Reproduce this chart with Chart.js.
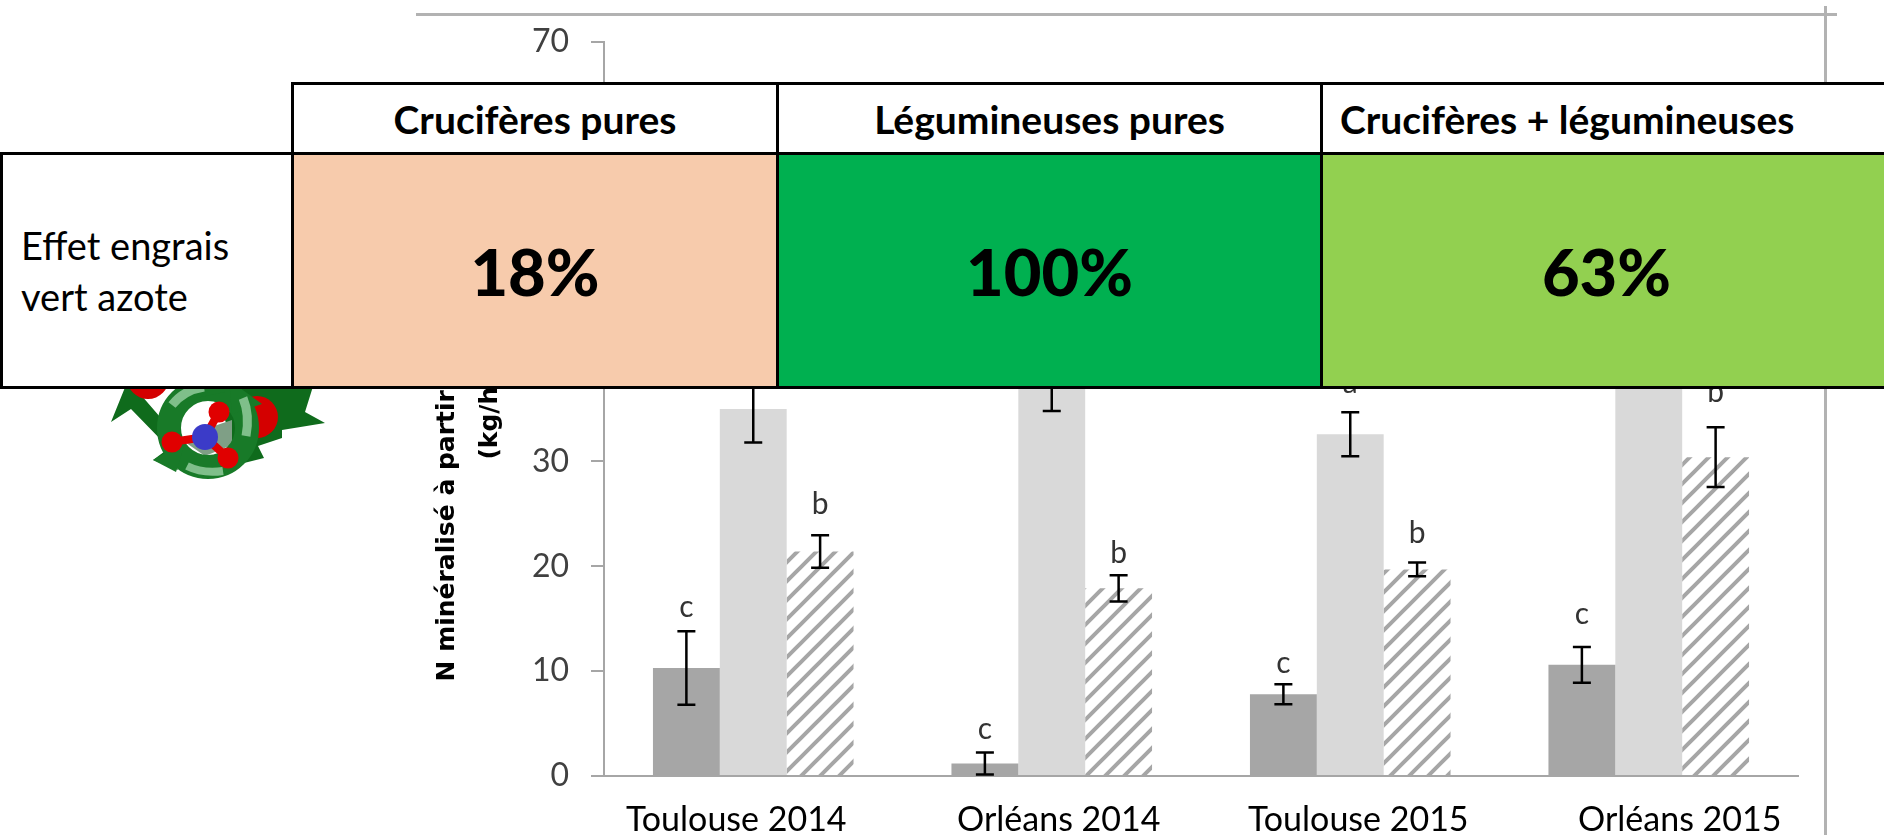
<!DOCTYPE html>
<html lang="fr">
<head>
<meta charset="utf-8">
<title>Effet engrais vert azote</title>
<script src="https://cdn.jsdelivr.net/npm/chart.js@4"></script>
<style>
  html, body { margin: 0; padding: 0; background: #fff; }
  body { position: relative; width: 1884px; height: 835px; overflow: hidden; font-family: Lato, sans-serif; color: #000; }
  canvas { position: absolute; left: 0; top: 0; }
  .frame { position: absolute; background: #b2b2b2; }
  #icon { position: absolute; left: 0; top: 0; }
  .cell { position: absolute; box-sizing: border-box; border: 3px solid #000; display: flex; align-items: center; justify-content: center; white-space: nowrap; }
  .head { background: #fff; font-weight: 700; font-size: 39px; }
  .pct { font-weight: 900; font-size: 65px; }
  .side { background: #fff; justify-content: flex-start; padding-left: 18px; font-size: 38px; line-height: 51px; white-space: normal; }
</style>
</head>
<body>
<canvas id="chart" width="1884" height="835"></canvas>
<div class="frame" style="left:416px;top:13px;width:1421px;height:3px"></div>
<div class="frame" style="left:1824px;top:6px;width:3px;height:829px"></div>
<svg id="icon" width="400" height="500" viewBox="0 0 400 500">
  <path d="M128 380 L111 422 L131 409 L166 445 L178 470 L153 460 L180 440 Z" fill="#0f6b1c"/>
  <path d="M245 380 L315 380 L305 412 L325 423 L282 430 L282 438 L258 446 L264 458 L240 464 L225 420 Z" fill="#0f6b1c"/>
  <circle cx="148" cy="378" r="21" fill="#d40000"/>
  <circle cx="257" cy="417" r="21" fill="#d40000"/>
  <path d="M208 428 L232 420 L232 445 L205 456 L182 440 Z" fill="#7f9f86"/>
  <circle cx="208" cy="428" r="39" fill="none" stroke="#187a28" stroke-width="24"/>
  <path d="M208 363 L225 392 L196 398 Z" fill="#187a28"/>
  <path d="M229 380 L262 404 L232 414 Z" fill="#187a28"/>
  <path d="M153 460 L186 440 L176 472 Z" fill="#187a28"/>
  <path d="M172 405 Q184 390 204 387" fill="none" stroke="#7fbf8a" stroke-width="9"/>
  <path d="M243 398 Q250 415 246 436" fill="none" stroke="#7fbf8a" stroke-width="9"/>
  <path d="M187 466 Q203 474 223 471" fill="none" stroke="#7fbf8a" stroke-width="8"/>
  <path d="M205 437 L219 412 M205 437 L172 442 M205 437 L228 458" stroke="#e00000" stroke-width="8"/>
  <circle cx="205" cy="437" r="13" fill="#3b3bc8"/>
  <circle cx="219" cy="412" r="10.5" fill="#e00000"/>
  <circle cx="172" cy="442" r="10.5" fill="#e00000"/>
  <circle cx="228" cy="458" r="10.5" fill="#e00000"/>
</svg>
<div id="table"></div>
<script>
var categories = ['Toulouse 2014', 'Orléans 2014', 'Toulouse 2015', 'Orléans 2015'];
var yTicks = [0, 10, 20, 30, 40, 50, 60, 70];

// bar heights, kg/ha (the light bars of Orleans are hidden by the table, so estimated)
var cruciferes = [10.3, 1.2, 7.8, 10.6];
var legumineuses = [35, 38, 32.6, 42];
var melanges = [21.4, 17.9, 19.7, 30.4];

// half length of the error bars
var crucifereErr = [3.5, 1.05, 0.95, 1.7];
var legumineuseErr = [3.2, 3.2, 2.1, 3.5];
var melangeErr = [1.55, 1.25, 0.65, 2.85];

// significance letters, and the value their baseline sits at
var crucifereLetters = ['c', 'c', 'c', 'c'];
var legumineuseLetters = ['a', 'a', 'a', 'a'];
var melangeLetters = ['b', 'b', 'b', 'b'];
var crucifereLetterY = [15.2, 3.55, 9.85, 14.5];
var legumineuseLetterY = [39.5, 42.5, 36.5, 47];
var melangeLetterY = [25, 20.3, 22.2, 35.7];

var tableHeads = ['Crucifères pures', 'Légumineuses pures', 'Crucifères + légumineuses'];
var tableValues = ['18%', '100%', '63%'];
var tableColors = ['#f7cbac', '#00b050', '#92d050'];
var sideLabel = ['Effet engrais', 'vert azote'];

// the category labels are not centred under their groups in the original
var labelShift = [-17, 7, 8, 31];

function hatch() {
  var size = 19;
  var c = document.createElement('canvas');
  c.width = size;
  c.height = size;
  var g = c.getContext('2d');
  g.fillStyle = '#fff';
  g.fillRect(0, 0, size, size);
  g.strokeStyle = '#a6a6a6';
  g.lineWidth = 4;
  g.beginPath();
  g.moveTo(-size, size);
  g.lineTo(size, -size);
  g.moveTo(0, size);
  g.lineTo(size, 0);
  g.moveTo(0, 2 * size);
  g.lineTo(2 * size, 0);
  g.stroke();
  return g.createPattern(c, 'repeat');
}

var extras = [
  { err: crucifereErr, letters: crucifereLetters, letterY: crucifereLetterY },
  { err: legumineuseErr, letters: legumineuseLetters, letterY: legumineuseLetterY },
  { err: melangeErr, letters: melangeLetters, letterY: melangeLetterY }
];

var errorBars = {
  id: 'errorBars',
  afterLayout: function(chart) {
    var items = chart.scales.x.getLabelItems(chart.chartArea);
    for (var i = 0; i < items.length; i++) {
      items[i].options.translation[0] += labelShift[i];
    }
  },
  afterDatasetsDraw: function(chart) {
    var ctx = chart.ctx;
    var y = chart.scales.y;
    ctx.save();
    ctx.strokeStyle = '#000';
    ctx.lineWidth = 2.5;
    ctx.font = '30px Lato';
    ctx.textAlign = 'center';
    ctx.textBaseline = 'alphabetic';
    for (var s = 0; s < extras.length; s++) {
      var meta = chart.getDatasetMeta(s);
      var values = chart.data.datasets[s].data;
      for (var i = 0; i < values.length; i++) {
        var x = meta.data[i].x;
        var top = y.getPixelForValue(values[i] + extras[s].err[i]);
        var bottom = y.getPixelForValue(values[i] - extras[s].err[i]);
        ctx.beginPath();
        ctx.moveTo(x, top);
        ctx.lineTo(x, bottom);
        ctx.moveTo(x - 9, top);
        ctx.lineTo(x + 9, top);
        ctx.moveTo(x - 9, bottom);
        ctx.lineTo(x + 9, bottom);
        ctx.stroke();
        ctx.fillStyle = '#333';
        ctx.fillText(extras[s].letters[i], x, y.getPixelForValue(extras[s].letterY[i]));
      }
    }
    ctx.restore();
  }
};

new Chart(document.getElementById('chart'), {
  type: 'bar',
  data: {
    labels: categories,
    datasets: [
      { label: 'Crucifères pures', data: cruciferes, backgroundColor: '#a6a6a6' },
      { label: 'Légumineuses pures', data: legumineuses, backgroundColor: '#d9d9d9' },
      { label: 'Crucifères + légumineuses', data: melanges, backgroundColor: hatch() }
    ]
  },
  plugins: [errorBars],
  options: {
    responsive: false,
    animation: false,
    layout: { padding: { left: 426, right: 86, top: 42, bottom: 0 } },
    datasets: { bar: { barPercentage: 1, categoryPercentage: 0.672 } },
    plugins: { legend: { display: false }, tooltip: { enabled: false } },
    scales: {
      x: {
        afterFit: function(scale) { scale.height = 59; },
        grid: { display: false },
        border: { color: '#a6a6a6', width: 2 },
        ticks: { color: '#000', padding: 16, maxRotation: 0, font: { family: 'Lato', size: 34 } }
      },
      y: {
        min: 0,
        max: 70,
        afterFit: function(scale) { scale.width = 178; },
        afterBuildTicks: function(scale) {
          scale.ticks = yTicks.map(function(v) { return { value: v }; });
        },
        grid: { drawOnChartArea: false, color: '#a6a6a6', tickLength: 13, lineWidth: 2 },
        border: { color: '#a6a6a6', width: 2 },
        ticks: { color: '#404040', padding: 22, font: { family: 'Lato', size: 32 } },
        title: {
          display: true,
          text: ['N minéralisé à partir des engrais verts', '(kg/ha)'],
          color: '#000',
          padding: 0,
          font: { family: 'DejaVu Sans', weight: 'bold', size: 25, lineHeight: 1.72 }
        }
      }
    }
  }
});

function addCell(cls, left, top, right, bottom, text, bg) {
  var el = document.createElement('div');
  el.className = 'cell ' + cls;
  el.style.left = left + 'px';
  el.style.top = top + 'px';
  el.style.width = (right - left) + 'px';
  el.style.height = (bottom - top) + 'px';
  if (bg) el.style.background = bg;
  el.innerHTML = text;
  document.getElementById('table').appendChild(el);
  return el;
}

var colX = [291, 776, 1320, 1890];
for (var i = 0; i < 3; i++) {
  var head = addCell('head', colX[i], 82, colX[i + 1] + 3, 155, tableHeads[i]);
  if (i === 2) {
    head.style.justifyContent = 'flex-start';
    head.style.paddingLeft = '17px';
  }
  addCell('pct', colX[i], 152, colX[i + 1] + 3, 389, tableValues[i], tableColors[i]);
}
addCell('side', 0, 152, 294, 389, sideLabel.join('<br>'));
</script>
</body>
</html>
